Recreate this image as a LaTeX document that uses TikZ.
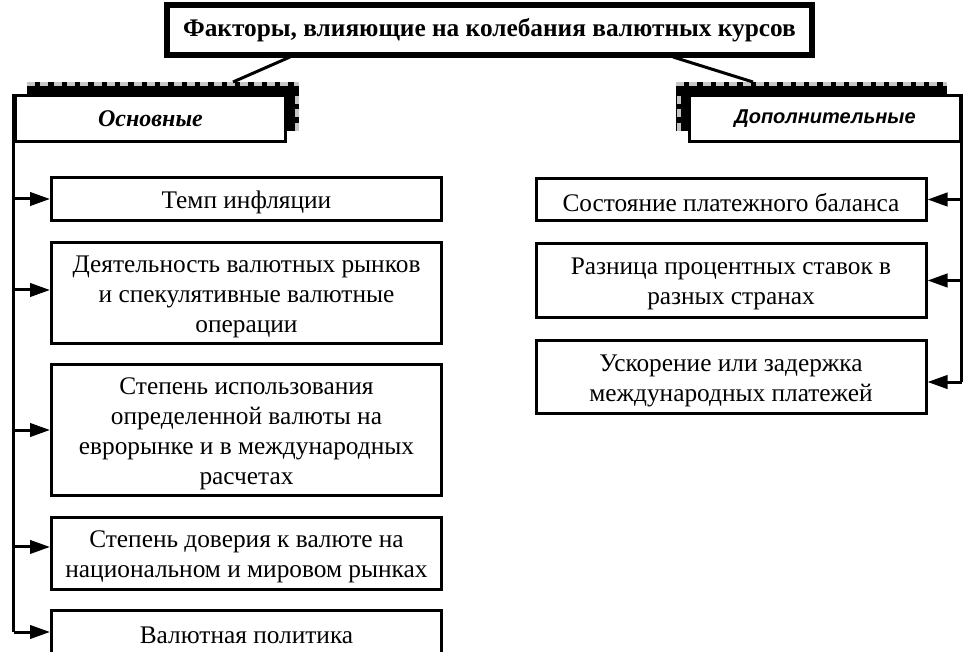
\documentclass[tikz,border=0pt]{standalone}
\usepackage{fontspec}
\setmainfont{Liberation Serif}
\newfontfamily\arialfont{Liberation Sans}
\usetikzlibrary{arrows.meta}
\newcommand{\tstrut}{\rule{0pt}{18pt}}

\begin{document}
\begin{tikzpicture}[x=0.75pt,y=0.75pt,yscale=-1,xscale=1,
    factor/.style={draw,line width=2.25pt,fill=white,align=center,inner sep=0pt,
        minimum width=292.5pt,font=\fontsize{19}{22.5}\selectfont},
    group/.style={draw,line width=2.25pt,fill=white,inner sep=0pt,
        minimum width=203pt,minimum height=34.5pt},
    feed/.style={line width=2.25pt},
    toarrow/.style={line width=2.25pt,-{Triangle[length=15pt,width=10pt]}},
    shade/.style={gray!45,line width=3pt,dash pattern=on 6pt off 4pt}]
        \useasboundingbox (0,0) rectangle (978,652);

        % Title
        \node [draw,line width=4.5pt,minimum width=483.75pt,minimum height=37.5pt,inner sep=0pt,
            font=\fontsize{19}{22}\selectfont\bfseries] (title) at (489.5,30) {Факторы, влияющие на колебания валютных курсов};
        \coordinate (titleL) at (290,57);
        \coordinate (titleR) at (673,57);

        %Shape: shadows of the group boxes
        \fill (27,82) rectangle (299,131);
        \draw [shade] (27,84.5) -- (299,84.5);
        \draw [shade] (296.5,96) -- (296.5,131);
        \fill (676,82) rectangle (947,131);
        \draw [shade] (676,84.5) -- (947,84.5);
        \draw [shade] (678.5,96) -- (678.5,131);
        \coordinate (osntop) at (233,82);
        \coordinate (doptop) at (753,82);

        % Group Nodes
        \node [group,font=\fontsize{18}{20}\selectfont\bfseries\itshape] (osn) at (150.5,118.5) {Основные};
        \node [group,font=\arialfont\fontsize{15}{20}\selectfont\bfseries\itshape] (dop) at (825,118.5) {Дополнительные};

        \draw [feed] (titleL) -- (osntop);
        \draw [feed] (titleR) -- (doptop);

        % Left factors
        \node [factor,minimum height=32.25pt] (infl) at (246.5,199) {\tstrut Темп инфляции};
        \node [factor,minimum height=75.75pt] (market) at (246.5,293) {\tstrut Деятельность валютных рынков\\и спекулятивные валютные\\операции};
        \node [factor,minimum height=98.25pt] (euro) at (246.5,430) {\tstrut Степень использования\\определенной валюты на\\еврорынке и в международных\\расчетах};
        \node [factor,minimum height=54pt] (trust) at (246.5,553.5) {\tstrut Степень доверия к валюте на\\национальном и мировом рынках};
        \node [factor,minimum height=32.25pt] (polit) at (246.5,632) {\tstrut Валютная политика};

        % Right factors
        \node [factor,minimum height=31.5pt] (bal) at (731,199.5) {\tstrut Состояние платежного баланса};
        \node [factor,minimum height=55.5pt] (rate) at (731,280.5) {\tstrut Разница процентных ставок в\\разных странах};
        \node [factor,minimum height=54.75pt] (delay) at (731,377) {\tstrut Ускорение или задержка\\международных платежей};

        % arrow ends off the box centres
        \coordinate (marketin) at ([yshift=-2.25pt]market.west);
        \coordinate (trustin) at ([yshift=-4.9pt]trust.west);
        \coordinate (delayin) at ([yshift=3.75pt]delay.east);

        % Connectors
        \draw [feed] (osn.north west) -- (osn.north west |- polit.west);
        \draw [toarrow] (osn.north west |- infl.west) -- (infl.west);
        \draw [toarrow] (osn.north west |- marketin) -- (marketin);
        \draw [toarrow] (osn.north west |- euro.west) -- (euro.west);
        \draw [toarrow] (osn.north west |- trustin) -- (trustin);
        \draw [toarrow] (osn.north west |- polit.west) -- (polit.west);

        \draw [feed] (dop.north east) -- (dop.north east |- delayin);
        \draw [toarrow] (dop.north east |- bal.east) -- (bal.east);
        \draw [toarrow] (dop.north east |- rate.east) -- (rate.east);
        \draw [toarrow] (dop.north east |- delayin) -- (delayin);

\end{tikzpicture}
\end{document}
